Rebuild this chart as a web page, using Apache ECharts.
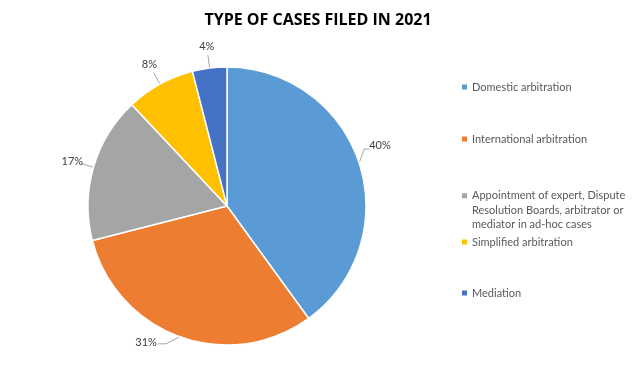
<!DOCTYPE html>
<html><head><meta charset="utf-8">
<script src="https://cdn.jsdelivr.net/npm/echarts@6/dist/echarts.min.js"></script>
<style>html,body{margin:0;padding:0;background:#fff}#c{width:637px;height:382px}</style>
</head><body><div id="c"></div>
<script>
const categories = ['Domestic arbitration','International arbitration','Appointment of expert, Dispute\nResolution Boards, arbitrator or\nmediator in ad-hoc cases','Simplified arbitration','Mediation'];
const values = [40, 31, 17, 8, 4];
const colors = ['#5B9BD5','#ED7D31','#A5A5A5','#FFC000','#4472C4'];
const legendCenters = [87, 139, 191, 242, 293];

const CX = 227, CY = 206, R = 139;
const chart = echarts.init(document.getElementById('c'), null, {renderer:'canvas'});
const font = 'Lato, "Open Sans", sans-serif';
const legends = categories.map((name, i) => {
  const multi = name.indexOf('\n') >= 0;
  return {
    data: [name],
    orient: 'vertical',
    left: 462,
    top: multi ? legendCenters[i] - 2.5 : legendCenters[i] - 7.5,
    padding: 0,
    itemWidth: 5,
    itemHeight: multi ? 34 : 5,
    itemGap: 0,
    icon: multi ? 'path://M0,0L5,0L5,5L0,5Z M0,33.99L0.01,33.99L0.01,34L0,34Z' : 'rect',
    itemStyle: {borderWidth: 0},
    selectedMode: false,
    textStyle: {fontFamily: font, fontSize: 11, color: '#595959', lineHeight: multi ? 14.5 : 15}
  };
});
chart.setOption({
  animation: false,
  color: colors,
  title: {
    text: 'TYPE OF CASES FILED IN 2021',
    left: 313, top: 7, textAlign: 'center',
    textStyle: {fontFamily: '"Open Sans", sans-serif', fontWeight: 'bold', fontSize: 16, color: '#000'}
  },
  legend: legends,
  series: [{
    type: 'pie',
    center: [CX, CY],
    radius: R,
    startAngle: 90,
    clockwise: true,
    data: categories.map((n, i) => ({name: n, value: values[i]})),
    itemStyle: {borderColor: '#fff', borderWidth: 1.5},
    label: {
      show: true,
      formatter: '{c}%',
      fontFamily: font, fontSize: 11, color: '#404040'
    },
    labelLine: {show: true, length: 6, length2: 6, lineStyle: {color: '#A6A6A6', width: 1}},
    labelLayout: function (p) {
      const pts = p.labelLinePoints;
      if (!pts) return {};
      const p0 = pts[0];
      if (p.dataIndex === 0) {
        return {
          x: p0[0] + 10, y: p0[1] - 18, align: 'left', verticalAlign: 'middle',
          labelLinePoints: [p0, [p0[0] + 5, p0[1] - 14], [p0[0] + 10, p0[1] - 14]]
        };
      }
      if (p.dataIndex === 1) {
        return {
          x: p0[0] - 23, y: p0[1] + 6, align: 'right', verticalAlign: 'middle',
          labelLinePoints: [p0, [p0[0] - 14, p0[1] + 7], [p0[0] - 22, p0[1] + 7]]
        };
      }
      const dx = p0[0] - CX, dy = p0[1] - CY;
      const len = Math.hypot(dx, dy);
      const ux = dx / len, uy = dy / len;
      return {
        x: CX + ux * (R + 22), y: CY + uy * (R + 22),
        align: 'center', verticalAlign: 'middle',
        labelLinePoints: [p0, [CX + ux * (R + 13), CY + uy * (R + 13)], [CX + ux * (R + 13), CY + uy * (R + 13)]]
      };
    }
  }]
});
</script></body></html>
